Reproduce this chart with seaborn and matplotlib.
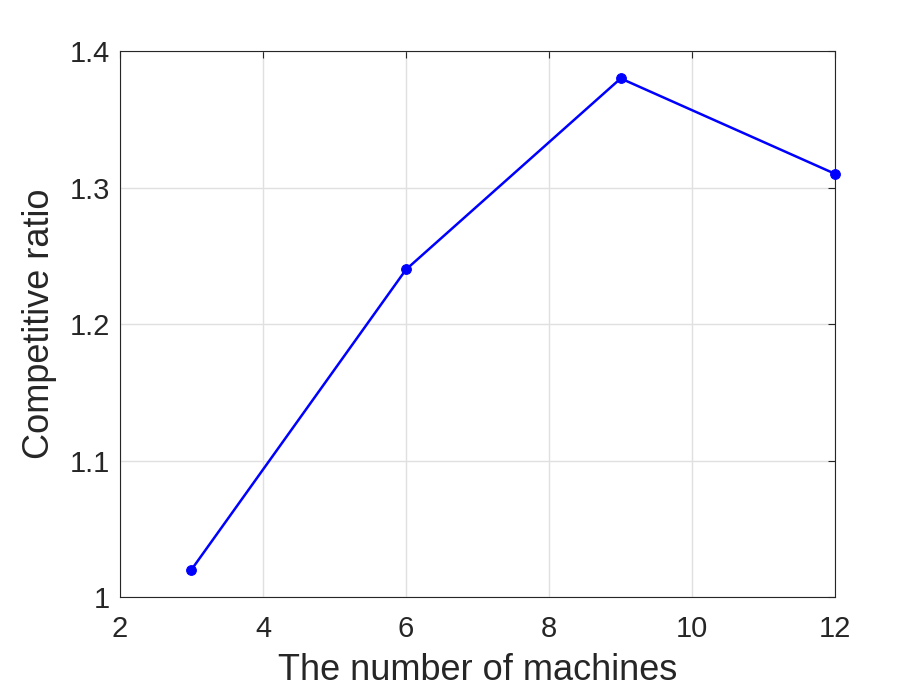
import matplotlib
matplotlib.use("Agg")
import matplotlib.pyplot as plt
import seaborn as sns
import pandas as pd

# values
machines = [3, 6, 9, 12]
ratios = [1.02, 1.24, 1.38, 1.31]
x_ticks = [2, 4, 6, 8, 10, 12]
y_ticks = [1.0, 1.1, 1.2, 1.3, 1.4]
y_tick_labels = ["1", "1.1", "1.2", "1.3", "1.4"]

df = pd.DataFrame({"machines": machines, "ratio": ratios})

sns.set_theme(style="whitegrid")
plt.rcParams["font.family"] = ["Liberation Sans", "DejaVu Sans"]

fig = plt.figure(figsize=(9.22, 6.91), dpi=100)
ax = fig.add_axes([0.130, 0.136, 0.776, 0.790])

sns.lineplot(data=df, x="machines", y="ratio", ax=ax, color="#0000ff",
             linewidth=1.8, marker="o", markersize=7, markeredgecolor="#0000ff",
             clip_on=False, zorder=5)

ax.set_xlim(2, 12)
ax.set_ylim(1.0, 1.4)
ax.set_xticks(x_ticks)
ax.set_yticks(y_ticks)
ax.set_yticklabels(y_tick_labels)

text_color = "#262626"
ax.set_xlabel("The number of machines", fontsize=26, color=text_color, labelpad=7)
ax.set_ylabel("Competitive ratio", fontsize=26, color=text_color, labelpad=9)
ax.tick_params(axis="both", labelsize=21, colors=text_color, direction="in",
               length=5, width=0.8, top=True, right=True)
ax.tick_params(axis="x", pad=13)
ax.tick_params(axis="y", pad=7)

ax.grid(True, color="#e0e0e0", linewidth=1)
for side in ax.spines.values():
    side.set_visible(True)
    side.set_color(text_color)
    side.set_linewidth(0.8)

fig.savefig("out.png", dpi=100, facecolor="white")
